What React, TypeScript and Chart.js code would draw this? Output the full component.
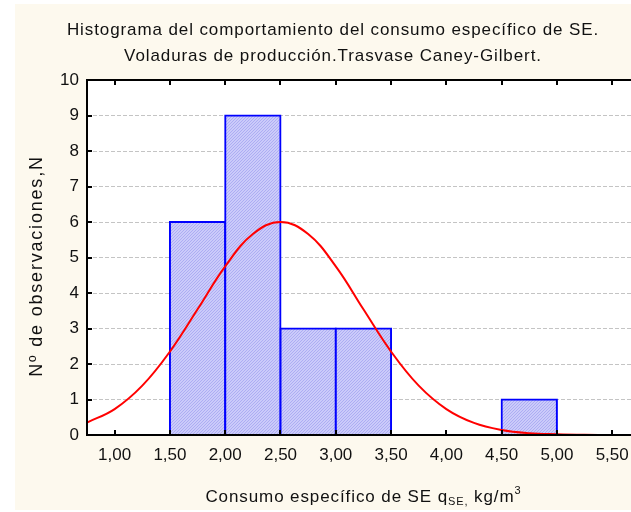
import React, { useEffect, useRef } from 'react';
import { Chart, registerables } from 'chart.js';

Chart.register(...registerables);

// ---------- data ----------
const titleLines = [
  'Histograma del comportamiento del consumo específico de SE.',
  'Voladuras de producción.Trasvase Caney-Gilbert.',
];
const yAxisTitle = 'Nº de observaciones,N';
const xTitleMain = 'Consumo específico de SE q';
const xTitleSub = 'SE,';
const xTitleUnit = ' kg/m';
const xTitleSup = '3';

const xTickValues = [1.0, 1.5, 2.0, 2.5, 3.0, 3.5, 4.0, 4.5, 5.0, 5.5];
const yTickValues = [0, 1, 2, 3, 4, 5, 6, 7, 8, 9, 10];

// histogram bins (centre of each 0.5-wide class) and observed counts
const binCenters = [1.75, 2.25, 2.75, 3.25, 4.75];
const binCounts = [6, 9, 3, 3, 1];

// expected (normal) curve
const curveX = [0.75, 1.0, 1.25, 1.5, 1.75, 2.0, 2.25, 2.5, 2.75, 3.0, 3.25, 3.5, 3.75, 4.0, 4.25, 4.5, 4.75, 5.0, 5.25, 5.5, 5.75];
const curveY = [0.35, 0.73, 1.39, 2.35, 3.54, 4.75, 5.66, 6.0, 5.66, 4.75, 3.54, 2.35, 1.39, 0.73, 0.34, 0.14, 0.05, 0.02, 0.005, 0.001, 0.0];

// ---------- styles ----------
const FONT = '"Liberation Sans", Arial, Helvetica, sans-serif';
const CREAM = '#fdf9ee';

const decorPlugin = {
  id: 'decor',
  beforeDraw(chart: any) {
    const { ctx, chartArea: a } = chart;
    ctx.save();
    ctx.fillStyle = '#ffffff';
    ctx.fillRect(0, 0, chart.width, chart.height);
    ctx.fillStyle = CREAM;
    ctx.fillRect(15, 4, chart.width - 15, 506);
    ctx.fillStyle = '#ffffff';
    ctx.fillRect(a.left, a.top, a.right - a.left, a.bottom - a.top);
    ctx.restore();
  },
  afterDatasetsDraw(chart: any) {
    const { ctx, chartArea: a } = chart;
    const xs = chart.scales.x;
    const ys = chart.scales.y;
    const yTop = ys.getPixelForValue(yTickValues[yTickValues.length - 1]);
    const yBot = ys.getPixelForValue(yTickValues[0]);
    ctx.save();
    ctx.strokeStyle = '#000';
    ctx.lineWidth = 2;
    ctx.beginPath();
    ctx.moveTo(a.left, yTop);
    ctx.lineTo(a.right, yTop);
    ctx.moveTo(a.left, yBot);
    ctx.lineTo(a.right, yBot);
    ctx.moveTo(a.left, yTop - 1);
    ctx.lineTo(a.left, yBot + 1);
    ctx.stroke();
    const tl = 5;
    ctx.beginPath();
    for (const v of xTickValues) {
      const px = Math.round(xs.getPixelForValue(v));
      ctx.moveTo(px, yBot);
      ctx.lineTo(px, yBot - tl);
      ctx.moveTo(px, yTop);
      ctx.lineTo(px, yTop + tl);
    }
    for (const v of yTickValues) {
      const py = Math.round(ys.getPixelForValue(v));
      ctx.moveTo(a.left, py);
      ctx.lineTo(a.left + tl, py);
    }
    ctx.stroke();
    ctx.restore();
  },
  afterDraw(chart: any) {
    const { ctx, chartArea: a } = chart;
    const hasLS = 'letterSpacing' in ctx;
    ctx.save();
    ctx.fillStyle = '#111';
    if (hasLS) (ctx as any).letterSpacing = '0.9px';
    ctx.font = `17px ${FONT}`;
    ctx.textAlign = 'center';
    ctx.textBaseline = 'middle';
    ctx.fillText(titleLines[0], 333, 30);
    ctx.fillText(titleLines[1], 333, 56);

    // y title
    ctx.save();
    if (hasLS) (ctx as any).letterSpacing = '1.8px';
    ctx.font = `18px ${FONT}`;
    ctx.translate(37, 266);
    ctx.rotate(-Math.PI / 2);
    ctx.fillText(yAxisTitle, 0, 0);
    ctx.restore();

    // x title with sub/superscript
    const big = `17px ${FONT}`;
    const small = `11px ${FONT}`;
    ctx.textAlign = 'left';
    ctx.textBaseline = 'alphabetic';
    ctx.font = big;
    const w1 = ctx.measureText(xTitleMain).width;
    const w3 = ctx.measureText(xTitleUnit).width;
    ctx.font = small;
    const w2 = ctx.measureText(xTitleSub).width;
    const w4 = ctx.measureText(xTitleSup).width;
    const total = w1 + w2 + w3 + w4;
    const cx = (a.left + 640) / 2;
    let x = cx - total / 2;
    const base = 502;
    ctx.font = big;
    ctx.fillText(xTitleMain, x, base);
    x += w1;
    ctx.font = small;
    ctx.fillText(xTitleSub, x, base + 3);
    x += w2;
    ctx.font = big;
    ctx.fillText(xTitleUnit, x, base);
    x += w3;
    ctx.font = small;
    ctx.fillText(xTitleSup, x, base - 8);
    ctx.restore();
  },
};

export default function App() {
  const ref = useRef<HTMLCanvasElement>(null);
  useEffect(() => {
    const canvas = ref.current!;
    const pc = document.createElement('canvas');
    pc.width = 3;
    pc.height = 3;
    const g = pc.getContext('2d')!;
    g.fillStyle = '#cbcbfa';
    g.fillRect(0, 0, 3, 3);
    g.fillStyle = '#adadf3';
    for (let i = 0; i < 3; i++) g.fillRect(i, 2 - i, 1, 1);
    const pattern = canvas.getContext('2d')!.createPattern(pc, 'repeat')!;

    const chart = new Chart(canvas, {
      type: 'bar',
      data: {
        datasets: [
          {
            type: 'line',
            label: 'Normal',
            data: curveX.map((x, i) => ({ x, y: curveY[i] })),
            borderColor: '#ff0000',
            borderWidth: 2,
            pointRadius: 0,
            tension: 0.4,
            fill: false,
            order: 0,
          } as any,
          {
            type: 'bar',
            label: 'Observaciones',
            data: binCenters.map((x, i) => ({ x, y: binCounts[i] })),
            backgroundColor: pattern,
            borderColor: '#0000ff',
            borderWidth: 2,
            borderSkipped: 'start',
            inflateAmount: 1,
            barPercentage: 1,
            categoryPercentage: 1,
            order: 1,
          } as any,
        ],
      },
      options: {
        responsive: false,
        animation: false,
        devicePixelRatio: 1,
        layout: { padding: { top: 80, left: 0, right: 0, bottom: 0 } },
        plugins: {
          legend: { display: false },
          tooltip: { enabled: false },
          title: { display: false },
        },
        scales: {
          x: {
            type: 'linear',
            offset: false,
            min: 0.75,
            max: 5.67,
            afterBuildTicks: (s: any) => {
              s.ticks = xTickValues.map((v) => ({ value: v }));
            },
            afterFit: (s: any) => {
              s.height = 77;
              s.paddingLeft = 0;
              s.paddingRight = 0;
            },
            grid: { display: false, drawTicks: false, offset: false },
            border: { display: false },
            ticks: {
              autoSkip: false,
              maxRotation: 0,
              minRotation: 0,
              padding: 10,
              color: '#111',
              font: { family: FONT, size: 17 },
              callback: (v: any) => Number(v).toFixed(2).replace('.', ','),
            },
          },
          y: {
            type: 'linear',
            min: 0,
            max: 10,
            afterBuildTicks: (s: any) => {
              s.ticks = yTickValues.map((v) => ({ value: v }));
            },
            afterFit: (s: any) => {
              s.width = 87;
              s.paddingTop = 0;
              s.paddingBottom = 0;
            },
            grid: {
              drawTicks: false,
              lineWidth: 1,
              color: (c: any) =>
                c.tick && (c.tick.value === yTickValues[0] || c.tick.value === yTickValues[yTickValues.length - 1])
                  ? 'rgba(0,0,0,0)'
                  : '#c4c4c4',
            },
            border: { display: false, dash: [4, 2] },
            ticks: {
              padding: 8,
              color: '#111',
              font: { family: FONT, size: 17 },
              callback: (v: any) => String(v),
            },
          },
        },
      },
      plugins: [decorPlugin],
    });
    return () => chart.destroy();
  }, []);
  return (
    <div style={{ position: 'fixed', left: 0, top: 0, width: 631, height: 512 }}>
      <canvas ref={ref} width={631} height={512} style={{ display: 'block', width: 631, height: 512 }} />
    </div>
  );
}
